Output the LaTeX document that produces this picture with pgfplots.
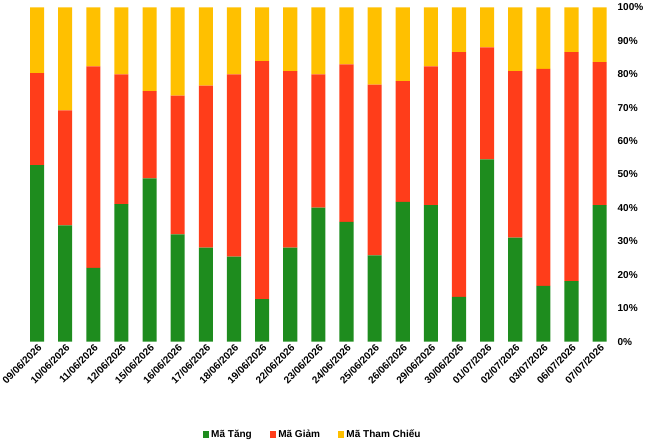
\documentclass[border=0pt]{standalone}
\usepackage{pgfplots}
\pgfplotsset{compat=1.18}
\usepackage{fontspec}
\setmainfont{Liberation Sans}
\definecolor{cg}{HTML}{1E8C1E}
\definecolor{cr}{HTML}{FF3D1A}
\definecolor{cy}{HTML}{FFC000}
\begin{document}
\begin{tikzpicture}
\begin{axis}[
  width=540pt, height=300pt, scale only axis,
  ybar stacked, bar width=0.5,
  ymin=0, ymax=100, xmin=-0.9, xmax=20.5,
  axis y line*=right, axis x line*=bottom,
  axis line style={draw=none}, tick style={draw=none},
  ytick={0,10,...,100}, yticklabel={\pgfmathprintnumber{\tick}\%},
  /pgf/number format/assume math mode=true,
  xtick=data,
  xticklabels={09/06/2026,10/06/2026,11/06/2026,12/06/2026,15/06/2026,16/06/2026,17/06/2026,18/06/2026,19/06/2026,22/06/2026,23/06/2026,24/06/2026,25/06/2026,26/06/2026,29/06/2026,30/06/2026,01/07/2026,02/07/2026,03/07/2026,06/07/2026,07/07/2026},
  x tick label style={rotate=45, anchor=north east, font=\bfseries\small, inner sep=1pt},
  y tick label style={font=\bfseries\small},
  legend style={at={(0.5,-0.25)}, anchor=north, draw=none, legend columns=3, font=\bfseries\small, /tikz/every even column/.append style={column sep=14pt}},
  legend image code/.code={\draw[#1,draw=none] (0cm,-0.1cm) rectangle (0.2cm,0.1cm);},
]
\addplot[fill=cg, draw=none] coordinates {(0,52.8)(1,34.8)(2,22.1)(3,41.1)(4,48.8)(5,32.1)(6,28.1)(7,25.4)(8,12.7)(9,28.1)(10,40.1)(11,35.8)(12,25.8)(13,41.8)(14,40.8)(15,13.4)(16,54.5)(17,31.1)(18,16.7)(19,18.1)(20,40.8)};
\addplot[fill=cr, draw=none] coordinates {(0,27.5)(1,34.4)(2,60.2)(3,38.8)(4,26.1)(5,41.5)(6,48.5)(7,54.5)(8,71.2)(9,52.8)(10,39.8)(11,47.1)(12,51.1)(13,36.1)(14,41.5)(15,73.2)(16,33.5)(17,49.8)(18,64.9)(19,68.5)(20,42.8)};
\addplot[fill=cy, draw=none] coordinates {(0,19.7)(1,30.8)(2,17.7)(3,20.1)(4,25.1)(5,26.4)(6,23.4)(7,20.1)(8,16.1)(9,19.1)(10,20.1)(11,17.1)(12,23.1)(13,22.1)(14,17.7)(15,13.4)(16,12.0)(17,19.1)(18,18.4)(19,13.4)(20,16.4)};
\legend{Mã Tăng, Mã Giảm, Mã Tham Chiếu}
\end{axis}
\end{tikzpicture}
\end{document}
